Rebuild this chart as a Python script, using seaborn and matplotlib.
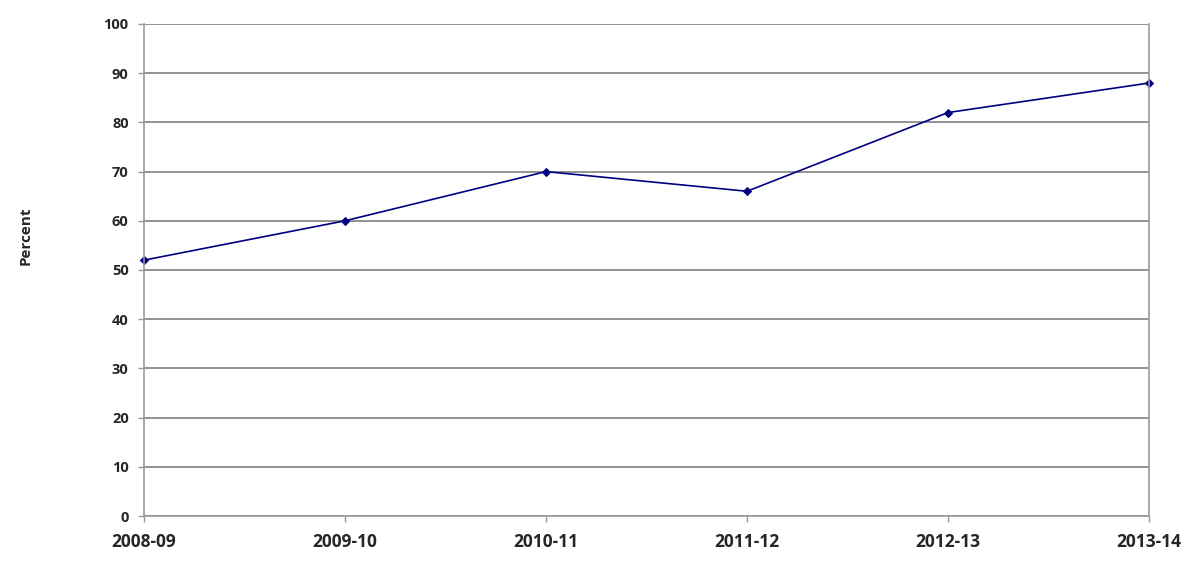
import matplotlib
matplotlib.use("Agg")
import matplotlib.pyplot as plt
import seaborn as sns
import pandas as pd

years = ["2008-09", "2009-10", "2010-11", "2011-12", "2012-13", "2013-14"]
percent = [52, 60, 70, 66, 82, 88]
yticks = [0, 10, 20, 30, 40, 50, 60, 70, 80, 90, 100]

sns.set_style("white")
plt.rcParams["font.family"] = ["Open Sans", "DejaVu Sans"]

df = pd.DataFrame({"year": years, "pct": percent})
df["x"] = range(len(years))

fig = plt.figure(figsize=(12, 5.71), dpi=100)
ax = fig.add_axes([0.12, 0.0963, 0.8375, 0.8617])

sns.lineplot(data=df, x="x", y="pct", ax=ax, color="#000080", linewidth=1.2,
             marker="D", markersize=4.5, markeredgecolor="#000080")
for ln in ax.lines:
    ln.set_clip_on(False)

ax.set_xlim(0, len(years) - 1)
ax.set_ylim(0, 100)
ax.set_yticks(yticks)
ax.set_yticklabels([str(v) for v in yticks], fontweight="bold", fontsize=10.5)
ax.set_xticks(df["x"])
ax.set_xticklabels(years, fontweight="bold", fontsize=12.5)
ax.yaxis.grid(True, color="#808080", linewidth=1.2)
ax.set_axisbelow(True)
ax.tick_params(axis="both", which="both", length=4.5, color="#999999", width=1, direction="out",
               left=True, bottom=True)
ax.tick_params(axis="y", pad=6.5)
ax.tick_params(axis="x", pad=7.5)
for s in ["left", "right", "bottom"]:
    ax.spines[s].set_color("#999999")
    ax.spines[s].set_linewidth(1.2)
ax.spines["top"].set_visible(False)
ax.set_xlabel("")
ax.set_ylabel("")
fig.text(0.021, 0.588, "Percent", rotation=90, ha="center", va="center",
         fontweight="bold", fontsize=11)

fig.savefig("out.png", dpi=100)
